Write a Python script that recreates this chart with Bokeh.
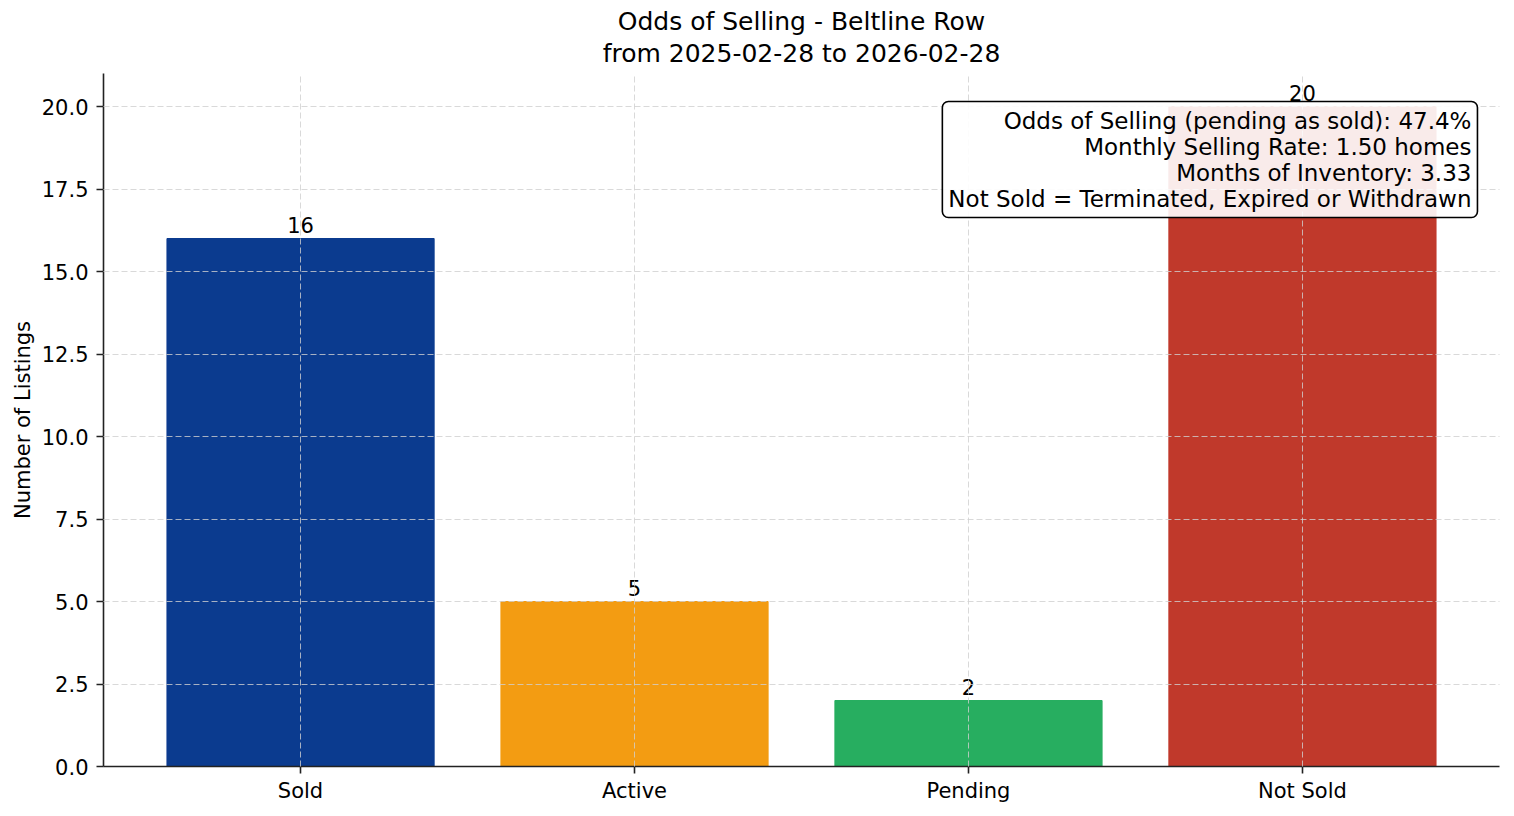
from bokeh.plotting import figure
from bokeh.models import ColumnDataSource, Title, Label, SingleIntervalTicker, NumeralTickFormatter, FactorRange
from bokeh.embed import file_html
from bokeh.resources import INLINE

# data
categories = ["Sold", "Active", "Pending", "Not Sold"]
counts = [16, 5, 2, 20]
bar_colors = ["#0b3b8f", "#f39c12", "#27ae60", "#c0392b"]
area_name = "Beltline Row"
start_date = "2025-02-28"
end_date = "2026-02-28"
odds_pct = 47.4
monthly_rate = 1.50
months_inventory = 3.33

FONT = "DejaVu Sans"

src = ColumnDataSource(data=dict(cat=categories, n=counts, color=bar_colors,
                                 lbl=[str(c) for c in counts]))

xr = FactorRange(*categories, range_padding=0.09, range_padding_units="absolute")
p = figure(x_range=xr, y_range=(0, 21), width=1514, height=816,
           output_backend="svg", toolbar_location=None, title=None,
           min_border_left=103, min_border_right=15, min_border_top=73, min_border_bottom=50)

# titles, each line centred (first added sits closest to the plot)
p.add_layout(Title(text=f"from {start_date} to {end_date}", align="center",
                   text_font=FONT, text_font_size="25px", text_font_style="normal",
                   text_color="#000000", standoff=11), "above")
p.add_layout(Title(text=f"Odds of Selling - {area_name}", align="center",
                   text_font=FONT, text_font_size="25px", text_font_style="normal",
                   text_color="#000000", standoff=-9), "above")

p.vbar(x="cat", top="n", width=0.8, color="color", source=src)
p.text(x="cat", y="n", text="lbl", source=src, text_align="center",
       text_baseline="bottom", y_offset=-6, text_font_size="21px",
       text_font={"value": FONT}, text_color="#000000")

# grid
p.grid.grid_line_color = "#d0d0d0"
p.grid.grid_line_dash = "6 3"
p.grid.grid_line_width = 1
p.grid.grid_line_alpha = 0.8
p.grid.level = "guide"

# axes
p.outline_line_color = None
p.yaxis.ticker = SingleIntervalTicker(interval=2.5)
p.yaxis.formatter = NumeralTickFormatter(format="0.0")
p.yaxis.axis_label = "Number of Listings"
p.yaxis.axis_label_text_font = FONT
p.yaxis.axis_label_text_font_size = "21px"
p.yaxis.axis_label_text_font_style = "normal"
p.yaxis.axis_label_text_color = "#000000"
p.yaxis.axis_label_standoff = 4
for ax in (p.xaxis, p.yaxis):
    ax.axis_line_color = "#222222"
    ax.axis_line_width = 1.6
    ax.major_tick_line_color = "#222222"
    ax.major_tick_line_width = 1.6
    ax.major_tick_out = 7
    ax.major_tick_in = 0
    ax.minor_tick_line_color = None
    ax.major_label_text_font = FONT
    ax.major_label_text_font_size = "21px"
    ax.major_label_text_color = "#000000"
p.yaxis.major_label_standoff = 8
p.xaxis.major_label_standoff = 5

# stats box
info = "\n".join([
    f"Odds of Selling (pending as sold): {odds_pct:.1f}%",
    f"Monthly Selling Rate: {monthly_rate:.2f} homes",
    f"Months of Inventory: {months_inventory:.2f}",
    "Not Sold = Terminated, Expired or Withdrawn",
])
box = Label(x=4.024, y=20.15, text=info, text_align="right", text_baseline="top",
            text_font=FONT, text_font_size="23px", text_color="#000000",
            text_line_height=1.0,
            background_fill_color="white", background_fill_alpha=0.9,
            border_line_color="#000000", border_line_width=1.6,
            padding=6, border_radius=6)
p.add_layout(box)

open("out.html", "w").write(file_html(p, INLINE))
